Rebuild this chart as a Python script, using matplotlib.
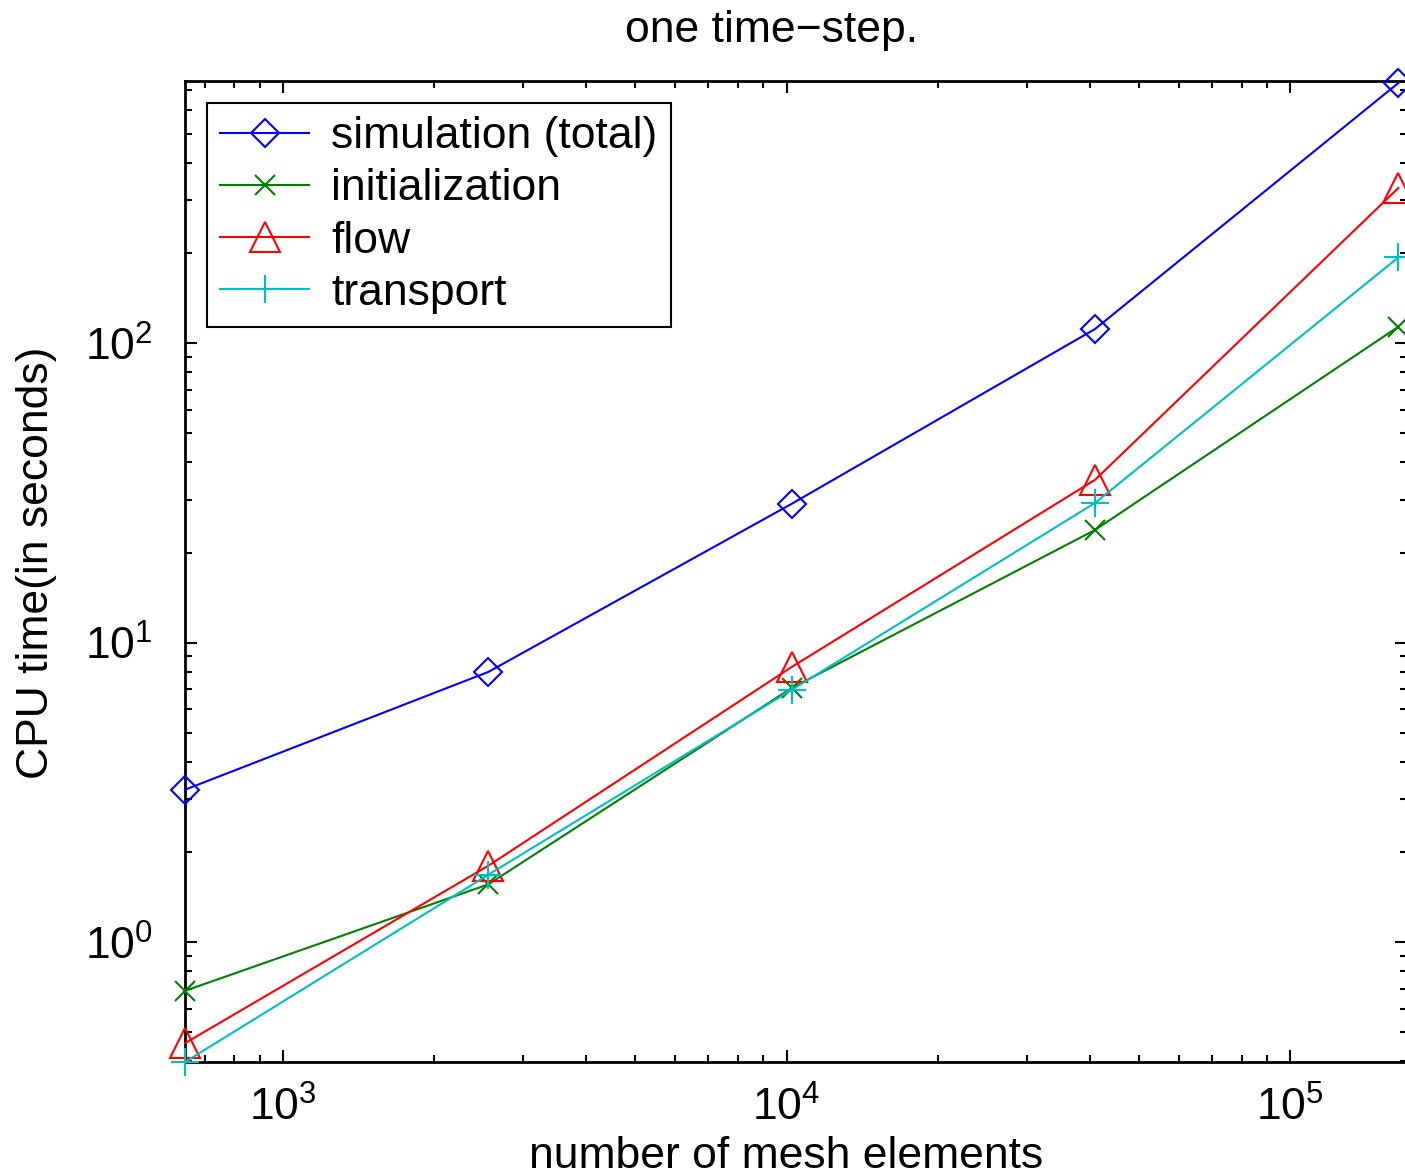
import numpy as np
import matplotlib
matplotlib.use("Agg")
import matplotlib.pyplot as plt
from matplotlib.ticker import LogLocator, LogFormatterSciNotation, NullFormatter

plt.rcParams['font.family'] = ['Liberation Sans', 'DejaVu Sans']
plt.rcParams['mathtext.fontset'] = 'custom'
plt.rcParams['mathtext.rm'] = 'Liberation Sans'
plt.rcParams['mathtext.it'] = 'Liberation Sans'
plt.rcParams['mathtext.bf'] = 'Liberation Sans'

# mesh sizes and CPU times (seconds)
mesh_elements = [640, 2560, 10240, 40960, 163840]
sim_total = [3.23, 7.99, 29.1, 111.6, 740]
init_time = [0.688, 1.56, 7.06, 23.8, 113.6]
flow_time = [0.46, 1.80, 8.30, 35.0, 330]
transport_time = [0.398, 1.68, 6.96, 29.3, 193.6]

labels = ['simulation (total)', 'initialization', 'flow', 'transport']

fig = plt.figure(figsize=(14.05, 11.75), dpi=100)
W, H = 1405.0, 1175.0
ax = fig.add_axes([185 / W, 1 - 1062 / H, (1407 - 185) / W, (1062 - 80.7) / H])

series = [
    (sim_total, '#0000ff', 'D', 14.5),
    (init_time, '#008000', 'x', 14),
    (flow_time, '#ff0000', '^', 21),
    (transport_time, '#00bfbf', '+', 20),
]
for (vals, col, mk, ms), lab in zip(series, labels):
    ax.plot(mesh_elements, vals, color=col, marker=mk, markersize=ms,
            markerfacecolor='none', markeredgecolor=col, markeredgewidth=1.5,
            linewidth=1.5, label=lab, clip_on=False, zorder=5)

ax.set_xscale('log')
ax.set_yscale('log')
ax.set_xlim(640, 170400)
ax.set_ylim(0.398, 753)

for a in (ax.xaxis, ax.yaxis):
    a.set_major_locator(LogLocator(base=10))
    a.set_minor_locator(LogLocator(base=10, subs=np.arange(2, 10)))
    a.set_major_formatter(LogFormatterSciNotation())
    a.set_minor_formatter(NullFormatter())

ax.tick_params(which='both', direction='in', top=True, right=True, width=1.5,
               labelsize=32, colors='black')
ax.tick_params(which='major', length=8.6)
ax.tick_params(which='minor', length=5)
ax.tick_params(axis='y', which='major', pad=23)
ax.tick_params(axis='x', which='major', pad=18)
for s in ax.spines.values():
    s.set_linewidth(2)

leg = ax.legend(loc='upper left', bbox_to_anchor=((207 - 185) / 1222, 1 - (103 - 80.7) / 981.3),
                borderaxespad=0, fontsize=32, frameon=True, fancybox=False,
                framealpha=1, edgecolor='black', handlelength=2.0,
                handletextpad=0.5, labelspacing=0.25, borderpad=0.3)
leg.get_frame().set_linewidth(1.5)

fig.text(772 / W, 1 - 42 / H, 'one time\u2212step.', fontsize=32, ha='center', va='baseline')
fig.text(786 / W, 1 - 1168 / H, 'number of mesh elements', fontsize=32, ha='center', va='baseline')
fig.text(37 / W, 1 - 563 / H, 'CPU time(in seconds)', fontsize=32, ha='center', va='center',
         rotation=90)

fig.savefig('out.png', dpi=100)
